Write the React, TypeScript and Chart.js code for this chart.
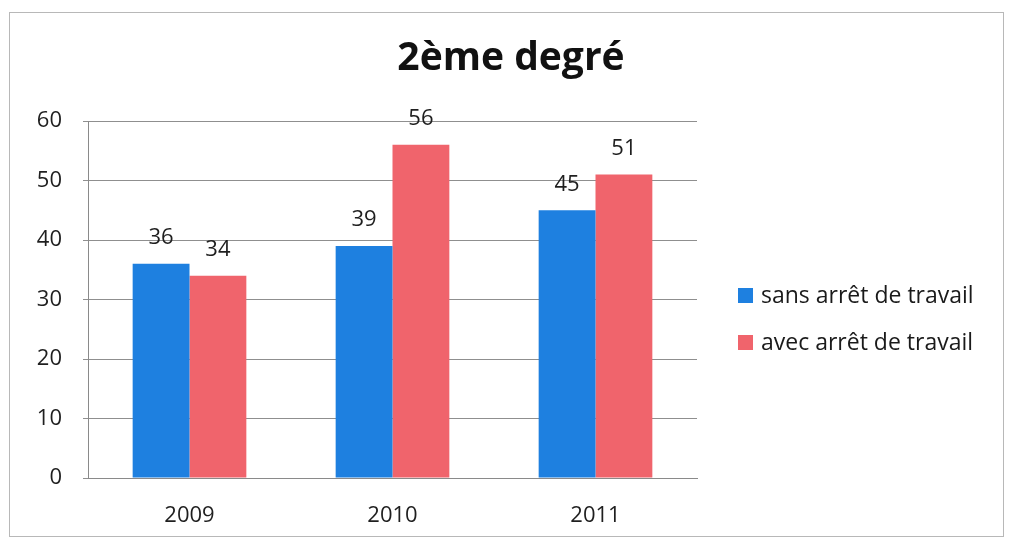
import React, { useEffect, useRef } from "react";
import { Chart, registerables } from "chart.js";

Chart.register(...registerables);

const categories = ["2009", "2010", "2011"];
const seriesNames = ["sans arrêt de travail", "avec arrêt de travail"];
const sansArret = [36, 39, 45];
const avecArret = [34, 56, 51];
const yTicks = [0, 10, 20, 30, 40, 50, 60];
const titleText = "2ème degré";

const BLUE = "#1E80E0";
const RED = "#F0646C";
const FONT = "'Open Sans', sans-serif";

const frameAndLabels = {
  id: "frameAndLabels",
  afterDatasetsDraw(chart: any) {
    const ctx = chart.ctx;
    ctx.save();
    ctx.font = `22px ${FONT}`;
    ctx.fillStyle = "#1f1f1f";
    ctx.textAlign = "center";
    ctx.textBaseline = "middle";
    chart.data.datasets.forEach((ds: any, i: number) => {
      const meta = chart.getDatasetMeta(i);
      meta.data.forEach((el: any, j: number) => {
        ctx.fillText(String(ds.data[j]), el.x, el.y - 26);
      });
    });
    ctx.restore();
  },
  afterDraw(chart: any) {
    const ctx = chart.ctx;
    ctx.save();
    // frame
    ctx.strokeStyle = "#b8b8b8";
    ctx.lineWidth = 1;
    ctx.strokeRect(9.5, 12.5, 994, 524);
    // title
    ctx.font = `bold 39px ${FONT}`;
    ctx.fillStyle = "#111";
    ctx.textAlign = "center";
    ctx.textBaseline = "alphabetic";
    ctx.fillText(titleText, 511, 70);
    // legend
    const rows = [296, 343];
    const colors = [BLUE, RED];
    ctx.font = `23px ${FONT}`;
    ctx.textBaseline = "middle";
    ctx.textAlign = "left";
    seriesNames.forEach((name, i) => {
      ctx.fillStyle = colors[i];
      ctx.fillRect(738, rows[i] - 8, 15, 15);
      ctx.fillStyle = "#1a1a1a";
      ctx.fillText(name, 761, rows[i]);
    });
    ctx.restore();
  },
};

export default function App() {
  const ref = useRef<HTMLCanvasElement | null>(null);
  useEffect(() => {
    document.body.style.margin = "0";
    const canvas = ref.current!;
    const chart = new Chart(canvas, {
      type: "bar",
      data: {
        labels: categories,
        datasets: [
          {
            label: seriesNames[0],
            data: sansArret,
            backgroundColor: BLUE,
            categoryPercentage: 0.56,
            barPercentage: 1,
          },
          {
            label: seriesNames[1],
            data: avecArret,
            backgroundColor: RED,
            categoryPercentage: 0.56,
            barPercentage: 1,
          },
        ],
      },
      options: {
        responsive: false,
        animation: false,
        layout: { padding: { left: 0, right: 314, top: 121, bottom: 0 } },
        plugins: {
          legend: { display: false },
          tooltip: { enabled: false },
          title: { display: false },
        },
        scales: {
          x: {
            grid: { display: false },
            border: { display: true, color: "#8a8a8a", width: 1 },
            ticks: {
              color: "#1f1f1f",
              font: { family: FONT, size: 22 },
              padding: 17,
            },
            afterFit: (s: any) => {
              s.height = 62;
            },
          },
          y: {
            min: 0,
            max: 60,
            afterBuildTicks: (s: any) => {
              s.ticks = yTicks.map((v) => ({ value: v }));
            },
            grid: { color: "#8f8f8f", tickLength: 5, lineWidth: 1 },
            border: { display: true, color: "#8a8a8a", width: 1 },
            ticks: {
              color: "#1f1f1f",
              font: { family: FONT, size: 22 },
              padding: 21,
            },
            afterFit: (s: any) => {
              s.width = 88;
            },
          },
        },
      },
      plugins: [frameAndLabels],
    } as any);
    return () => chart.destroy();
  }, []);
  return <canvas ref={ref} width={1011} height={540} style={{ display: "block" }} />;
}
